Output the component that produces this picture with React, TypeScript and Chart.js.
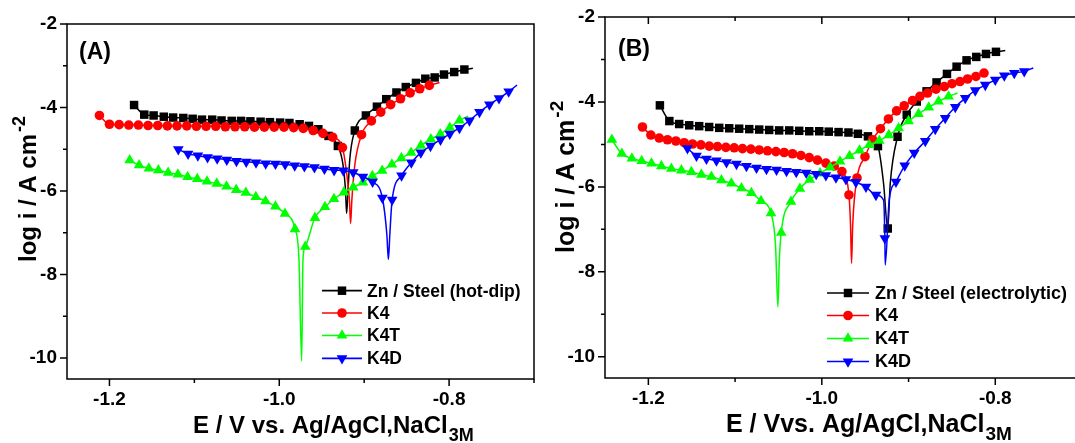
import React, { useEffect, useRef } from 'react';
import { Chart, registerables } from 'chart.js';

Chart.register(...registerables);

const FONT = "'Liberation Sans', Arial, Helvetica, sans-serif";

// ---------- axis ticks (both panels) ----------
const xMajorTicks = [-1.2, -1.0, -0.8];
const xMajorLabels = ['-1.2', '-1.0', '-0.8'];
const xMinorTicks = [-1.1, -0.9, -0.7];
const yMajorTicks = [-10, -8, -6, -4, -2];
const yMajorLabels = ['-10', '-8', '-6', '-4', '-2'];
const yMinorTicks = [-9, -7, -5, -3];
const xRange = [-1.25, -0.7];
const yRange = [-10.5, -2];

const seriesLabelsA = ['Zn / Steel (hot-dip)', 'K4', 'K4T', 'K4D'];
const seriesLabelsB = ['Zn / Steel (electrolytic)', 'K4', 'K4T', 'K4D'];

// ---------- Panel A : hot-dip ----------
// marker points (E / V, log i)
const aZnE = [-1.171, -1.159, -1.148, -1.136, -1.125, -1.113, -1.102, -1.091, -1.079, -1.068, -1.056, -1.045, -1.034, -1.022, -1.011, -0.999, -0.988, -0.976, -0.965, -0.954, -0.942, -0.931, -0.911, -0.898, -0.885, -0.874, -0.862, -0.851, -0.839, -0.828, -0.817, -0.806, -0.794, -0.782];
const aZnI = [-3.94, -4.17, -4.19, -4.22, -4.24, -4.25, -4.27, -4.29, -4.29, -4.31, -4.32, -4.32, -4.33, -4.34, -4.35, -4.36, -4.37, -4.40, -4.44, -4.52, -4.68, -4.92, -4.55, -4.19, -3.98, -3.80, -3.64, -3.51, -3.41, -3.31, -3.28, -3.21, -3.15, -3.09];
// curve points without a marker (around Ecorr and at the end)
const aZnTraceE = [-0.925, -0.922, -0.9207, -0.919, -0.917, -0.772];
const aZnTraceI = [-5.36, -5.97, -6.54, -5.97, -5.25, -3.06];

const aK4E = [-1.2118, -1.2, -1.1886, -1.1772, -1.1659, -1.1545, -1.1431, -1.1318, -1.1204, -1.1089, -1.0976, -1.0862, -1.0748, -1.0635, -1.0521, -1.0407, -1.0292, -1.0176, -1.006, -0.9945, -0.9831, -0.9718, -0.9601, -0.9486, -0.9371, -0.9256, -0.9031, -0.8915, -0.8804, -0.8688, -0.8572, -0.8459, -0.8345, -0.8233];
const aK4I = [-4.19, -4.40, -4.41, -4.42, -4.42, -4.43, -4.43, -4.44, -4.44, -4.44, -4.45, -4.45, -4.45, -4.46, -4.46, -4.46, -4.47, -4.47, -4.47, -4.47, -4.48, -4.50, -4.55, -4.62, -4.71, -4.96, -4.65, -4.32, -4.11, -3.93, -3.79, -3.65, -3.55, -3.47];
const aK4TraceE = [-0.9204, -0.9174, -0.916, -0.9145, -0.911, -0.8113];
const aK4TraceI = [-5.61, -6.21, -6.78, -6.21, -5.37, -3.40];

const aK4TE = [-1.1762, -1.1651, -1.1536, -1.1424, -1.1309, -1.1194, -1.108, -1.0966, -1.0851, -1.0736, -1.0621, -1.0507, -1.0394, -1.0276, -1.0162, -1.0045, -0.9933, -0.9815, -0.9694, -0.958, -0.9462, -0.9356, -0.9239, -0.9129, -0.9015, -0.8904, -0.8789, -0.8674, -0.8562, -0.8448, -0.8333, -0.8215, -0.8104, -0.7992, -0.7878];
const aK4TI = [-5.26, -5.38, -5.46, -5.50, -5.56, -5.60, -5.66, -5.71, -5.77, -5.82, -5.89, -5.97, -6.04, -6.14, -6.24, -6.37, -6.54, -6.91, -7.33, -6.64, -6.38, -6.19, -6.03, -5.91, -5.79, -5.64, -5.51, -5.36, -5.21, -5.08, -4.91, -4.76, -4.64, -4.48, -4.31];
const aK4TTraceE = [-0.9768, -0.9736, -0.9721, -0.7776];
const aK4TTraceI = [-7.64, -10.07, -7.64, -4.21];

const aK4DE = [-1.1189, -1.1074, -1.0959, -1.0845, -1.0731, -1.0618, -1.0504, -1.0389, -1.0274, -1.016, -1.0045, -0.9931, -0.9818, -0.9704, -0.9586, -0.9468, -0.9354, -0.9245, -0.9129, -0.9015, -0.8901, -0.8786, -0.8671, -0.856, -0.8445, -0.8333, -0.8219, -0.8101, -0.7992, -0.7878, -0.776, -0.7642, -0.7525, -0.7412, -0.7298];
const aK4DI = [-5.00, -5.11, -5.15, -5.19, -5.22, -5.25, -5.28, -5.30, -5.32, -5.34, -5.35, -5.36, -5.39, -5.41, -5.43, -5.47, -5.50, -5.51, -5.55, -5.66, -5.78, -6.16, -6.21, -5.63, -5.32, -5.08, -4.92, -4.77, -4.63, -4.49, -4.31, -4.11, -3.93, -3.78, -3.62];
const aK4DTraceE = [-0.8733, -0.8715, -0.8698, -0.72];
const aK4DTraceI = [-7.04, -7.64, -7.04, -3.46];

// ---------- Panel B : electrolytic ----------
const bZnE = [-1.1867, -1.1758, -1.1645, -1.1529, -1.1414, -1.1299, -1.1183, -1.1068, -1.0953, -1.0837, -1.0722, -1.0607, -1.0492, -1.0376, -1.0261, -1.0145, -1.003, -0.992, -0.9807, -0.9693, -0.9584, -0.9468, -0.9353, -0.924, -0.9127, -0.9021, -0.8905, -0.8792, -0.8677, -0.8557, -0.8446, -0.8331, -0.8219, -0.8107, -0.7992];
const bZnI = [-4.08, -4.45, -4.52, -4.55, -4.57, -4.59, -4.61, -4.62, -4.63, -4.64, -4.65, -4.66, -4.67, -4.67, -4.68, -4.69, -4.69, -4.70, -4.71, -4.72, -4.75, -4.81, -5.04, -6.98, -4.82, -4.30, -3.99, -3.75, -3.54, -3.34, -3.17, -3.02, -2.94, -2.87, -2.82];
const bZnTraceE = [-0.9288, -0.9211, -0.7885];
const bZnTraceI = [-5.92, -5.92, -2.79];

const bK4E = [-1.2068, -1.1971, -1.1875, -1.178, -1.1683, -1.1587, -1.1491, -1.1394, -1.1298, -1.1203, -1.1106, -1.101, -1.0915, -1.0818, -1.0722, -1.0626, -1.0529, -1.0434, -1.0338, -1.0241, -1.0145, -1.005, -0.9953, -0.9857, -0.9768, -0.9687, -0.9594, -0.9502, -0.9415, -0.9324, -0.9232, -0.9138, -0.905, -0.8954, -0.8869, -0.8781, -0.8684, -0.8588, -0.8499, -0.8407, -0.8319, -0.8223, -0.813];
const bK4I = [-4.59, -4.78, -4.85, -4.89, -4.92, -4.96, -4.99, -5.01, -5.04, -5.05, -5.07, -5.08, -5.10, -5.11, -5.13, -5.15, -5.17, -5.19, -5.22, -5.26, -5.31, -5.37, -5.44, -5.51, -5.64, -6.19, -5.79, -5.29, -4.89, -4.63, -4.40, -4.21, -4.09, -3.97, -3.87, -3.79, -3.70, -3.64, -3.57, -3.52, -3.46, -3.40, -3.32];
const bK4TraceE = [-0.9669, -0.9657, -0.9644];
const bK4TraceI = [-6.90, -7.80, -6.90];

const bK4TE = [-1.2421, -1.2306, -1.219, -1.2077, -1.1964, -1.185, -1.1735, -1.1619, -1.1504, -1.1389, -1.1273, -1.1158, -1.1043, -1.0927, -1.0812, -1.0701, -1.0586, -1.0468, -1.0356, -1.0253, -1.014, -1.0021, -0.9905, -0.979, -0.968, -0.9565, -0.9453, -0.9338, -0.9228, -0.9115, -0.9, -0.8885, -0.8767, -0.8654, -0.8539];
const bK4TI = [-4.89, -5.22, -5.33, -5.39, -5.45, -5.51, -5.57, -5.61, -5.65, -5.71, -5.76, -5.84, -5.92, -6.03, -6.14, -6.33, -6.62, -7.08, -6.35, -6.04, -5.83, -5.68, -5.54, -5.40, -5.27, -5.14, -5.01, -4.91, -4.78, -4.62, -4.45, -4.28, -4.13, -3.99, -3.87];
const bK4TTraceE = [-1.0534, -1.0506, -1.0491, -0.8435];
const bK4TTraceI = [-7.37, -8.83, -7.77, -3.79];

const bK4DE = [-1.1549, -1.1445, -1.133, -1.1215, -1.1099, -1.0984, -1.0869, -1.0753, -1.0638, -1.0522, -1.0407, -1.0295, -1.018, -1.0065, -0.9953, -0.9837, -0.9722, -0.9607, -0.9491, -0.9376, -0.9273, -0.9145, -0.9044, -0.8934, -0.8807, -0.8692, -0.8577, -0.8461, -0.8346, -0.8231, -0.8115, -0.8, -0.7896, -0.7781, -0.7666];
const bK4DI = [-5.09, -5.27, -5.34, -5.38, -5.42, -5.46, -5.51, -5.55, -5.58, -5.60, -5.63, -5.65, -5.67, -5.70, -5.73, -5.78, -5.82, -5.89, -6.00, -6.19, -7.21, -5.88, -5.50, -5.20, -4.92, -4.64, -4.38, -4.12, -3.91, -3.73, -3.60, -3.48, -3.38, -3.32, -3.28];
const bK4DTraceE = [-0.9288, -0.9269, -0.9223, -0.7562];
const bK4DTraceI = [-6.31, -7.84, -6.31, -3.20];

// ---------- styling ----------
const COLORS = ['#000000', '#ff0000', '#00ff00', '#0000ff'];
const MARKERS = [
  { style: 'rect', rot: 0, r: 6 },
  { style: 'circle', rot: 0, r: 4.8 },
  { style: 'triangle', rot: 0, r: 6.2 },
  { style: 'triangle', rot: 180, r: 6.2 },
];

type Pt = { x: number; y: number; m: boolean };

function buildSeries(mE: number[], mI: number[], tE: number[], tI: number[]): Pt[] {
  const pts: Pt[] = mE.map((x, i) => ({ x, y: mI[i], m: true }));
  tE.forEach((x, i) => pts.push({ x, y: tI[i], m: false }));
  pts.sort((a, b) => a.x - b.x);
  return pts;
}

function drawMarker(ctx: CanvasRenderingContext2D, idx: number, x: number, y: number) {
  const mk = MARKERS[idx];
  ctx.fillStyle = COLORS[idx];
  ctx.beginPath();
  if (mk.style === 'rect') {
    const s = mk.r * Math.SQRT1_2;
    ctx.rect(x - s, y - s, 2 * s, 2 * s);
  } else if (mk.style === 'circle') {
    ctx.arc(x, y, mk.r, 0, Math.PI * 2);
  } else {
    let a = (mk.rot * Math.PI) / 180;
    ctx.moveTo(x + Math.sin(a) * mk.r, y - Math.cos(a) * mk.r);
    a += (2 * Math.PI) / 3;
    ctx.lineTo(x + Math.sin(a) * mk.r, y - Math.cos(a) * mk.r);
    a += (2 * Math.PI) / 3;
    ctx.lineTo(x + Math.sin(a) * mk.r, y - Math.cos(a) * mk.r);
  }
  ctx.closePath();
  ctx.fill();
}

type PanelProps = {
  canvasLeft: number;
  canvasWidth: number;
  area: { left: number; right: number; top: number; bottom: number };
  series: Pt[][];
  labels: string[];
  panelLabel: string;
  panelLabelPos: [number, number];
  xTitle: string;
  xTitlePos: [number, number];
  xTitleSize: number;
  yTitlePos: [number, number];
  yTitleSize: number;
  legend: { x1: number; x2: number; tx: number; rows: number[]; size: number };
  topTicks: boolean;
};

const H = 443;

function TafelPanel(p: PanelProps) {
  const ref = useRef<HTMLCanvasElement | null>(null);
  useEffect(() => {
    if (!ref.current) return;
    const a = p.area;
    const decor = {
      id: 'decor',
      afterDraw(chart: any) {
        const ctx: CanvasRenderingContext2D = chart.ctx;
        const ca = chart.chartArea;
        const xs = chart.scales.x;
        const ys = chart.scales.y;
        ctx.save();
        ctx.strokeStyle = '#000';
        ctx.lineWidth = 1.5;
        ctx.strokeRect(ca.left, ca.top, ca.right - ca.left, ca.bottom - ca.top);
        ctx.beginPath();
        const xt = (v: number, len: number) => {
          const px = xs.getPixelForValue(v);
          ctx.moveTo(px, ca.bottom);
          ctx.lineTo(px, ca.bottom + len);
          if (p.topTicks) {
            ctx.moveTo(px, ca.top);
            ctx.lineTo(px, ca.top + len);
          }
        };
        const yt = (v: number, len: number) => {
          const py = ys.getPixelForValue(v);
          ctx.moveTo(ca.left, py);
          ctx.lineTo(ca.left - len, py);
        };
        xMajorTicks.forEach((v) => xt(v, 7));
        xMinorTicks.forEach((v) => xt(v, 4));
        yMajorTicks.forEach((v) => yt(v, 7));
        yMinorTicks.forEach((v) => yt(v, 4));
        ctx.stroke();

        // legend
        const lg = p.legend;
        p.labels.forEach((lab, i) => {
          const ry = lg.rows[i];
          ctx.strokeStyle = COLORS[i];
          ctx.lineWidth = 1.7;
          ctx.beginPath();
          ctx.moveTo(lg.x1, ry);
          ctx.lineTo(lg.x2, ry);
          ctx.stroke();
          drawMarker(ctx, i, (lg.x1 + lg.x2) / 2, ry);
          ctx.fillStyle = '#000';
          ctx.font = `bold ${lg.size}px ${FONT}`;
          ctx.textAlign = 'left';
          ctx.textBaseline = 'middle';
          ctx.fillText(lab, lg.tx, ry + 1);
        });

        // panel label
        ctx.fillStyle = '#000';
        ctx.textBaseline = 'alphabetic';
        ctx.textAlign = 'left';
        ctx.font = `bold 23px ${FONT}`;
        ctx.fillText(p.panelLabel, p.panelLabelPos[0], p.panelLabelPos[1]);

        // x title with subscript
        const xs0 = p.xTitleSize;
        ctx.font = `bold ${xs0}px ${FONT}`;
        ctx.fillText(p.xTitle, p.xTitlePos[0], p.xTitlePos[1]);
        const w = ctx.measureText(p.xTitle).width;
        ctx.font = `bold ${Math.round(xs0 * 0.74)}px ${FONT}`;
        ctx.fillText('3M', p.xTitlePos[0] + w + 1, p.xTitlePos[1] + 8);

        // y title with superscript
        const ysz = p.yTitleSize;
        ctx.save();
        ctx.translate(p.yTitlePos[0], p.yTitlePos[1]);
        ctx.rotate(-Math.PI / 2);
        ctx.font = `bold ${ysz}px ${FONT}`;
        ctx.fillText('log i / A cm', 0, 0);
        const w2 = ctx.measureText('log i / A cm').width;
        ctx.font = `bold ${Math.round(ysz * 0.74)}px ${FONT}`;
        ctx.fillText('-2', w2 + 2, -ysz * 0.45);
        ctx.restore();

        ctx.restore();
      },
    };

    const datasets = p.series.map((pts, i) => ({
      label: p.labels[i],
      data: pts,
      borderColor: COLORS[i],
      backgroundColor: COLORS[i],
      borderWidth: 1.5,
      pointStyle: MARKERS[i].style,
      pointRotation: MARKERS[i].rot,
      pointRadius: (c: any) => (c.raw && c.raw.m ? MARKERS[i].r : 0),
      pointHoverRadius: 0,
      pointBackgroundColor: COLORS[i],
      pointBorderColor: COLORS[i],
      pointBorderWidth: 0,
      cubicInterpolationMode: 'monotone',
      order: 3 - i,
    }));

    const tickFont = { family: FONT, size: 19, weight: 'bold' };
    const chart = new Chart(ref.current, {
      type: 'line',
      data: { datasets } as any,
      plugins: [decor],
      options: {
        responsive: false,
        animation: false,
        devicePixelRatio: 1,
        events: [],
        layout: {
          autoPadding: false,
          padding: { left: 0, top: a.top, right: p.canvasWidth - a.right, bottom: 0 },
        },
        plugins: { legend: { display: false }, tooltip: { enabled: false } },
        scales: {
          x: {
            type: 'linear',
            min: xRange[0],
            max: xRange[1],
            grid: { display: false, drawTicks: false },
            border: { display: false },
            afterBuildTicks: (s: any) => {
              s.ticks = xMajorTicks.map((v) => ({ value: v }));
            },
            afterFit: (s: any) => {
              s.height = H - a.bottom;
              s.paddingLeft = 0;
              s.paddingRight = 0;
              s.paddingTop = 0;
              s.paddingBottom = 0;
            },
            ticks: {
              autoSkip: false,
              maxRotation: 0,
              padding: 9,
              color: '#000',
              font: tickFont,
              callback: (v: any) => {
                const k = xMajorTicks.findIndex((t) => Math.abs(t - v) < 1e-6);
                return k >= 0 ? xMajorLabels[k] : '';
              },
            },
          },
          y: {
            type: 'linear',
            min: yRange[0],
            max: yRange[1],
            grid: { display: false, drawTicks: false },
            border: { display: false },
            afterBuildTicks: (s: any) => {
              s.ticks = yMajorTicks.map((v) => ({ value: v }));
            },
            afterFit: (s: any) => {
              s.width = a.left;
              s.paddingLeft = 0;
              s.paddingRight = 0;
              s.paddingTop = 0;
              s.paddingBottom = 0;
            },
            ticks: {
              autoSkip: false,
              padding: 10,
              color: '#000',
              font: tickFont,
              callback: (v: any) => {
                const k = yMajorTicks.findIndex((t) => Math.abs(t - v) < 1e-6);
                return k >= 0 ? yMajorLabels[k] : '';
              },
            },
          },
        },
      } as any,
    });
    return () => chart.destroy();
  }, []);

  return (
    <canvas
      ref={ref}
      width={p.canvasWidth}
      height={H}
      style={{ position: 'absolute', left: p.canvasLeft, top: 0, width: p.canvasWidth, height: H }}
    />
  );
}

export default function App() {
  const seriesA = [
    buildSeries(aZnE, aZnI, aZnTraceE, aZnTraceI),
    buildSeries(aK4E, aK4I, aK4TraceE, aK4TraceI),
    buildSeries(aK4TE, aK4TI, aK4TTraceE, aK4TTraceI),
    buildSeries(aK4DE, aK4DI, aK4DTraceE, aK4DTraceI),
  ];
  const seriesB = [
    buildSeries(bZnE, bZnI, bZnTraceE, bZnTraceI),
    buildSeries(bK4E, bK4I, bK4TraceE, bK4TraceI),
    buildSeries(bK4TE, bK4TI, bK4TTraceE, bK4TTraceI),
    buildSeries(bK4DE, bK4DI, bK4DTraceE, bK4DTraceI),
  ];
  return (
    <div
      style={{
        position: 'fixed',
        left: 0,
        top: 0,
        width: 1075,
        height: H,
        overflow: 'hidden',
        background: '#fff',
      }}
    >
      <TafelPanel
        canvasLeft={0}
        canvasWidth={540}
        area={{ left: 67, right: 534, top: 24, bottom: 379 }}
        series={seriesA}
        labels={seriesLabelsA}
        panelLabel="(A)"
        panelLabelPos={[79, 59]}
        xTitle="E / V vs. Ag/AgCl,NaCl"
        xTitlePos={[193, 433]}
        xTitleSize={24}
        yTitlePos={[36, 262]}
        yTitleSize={24}
        legend={{ x1: 322, x2: 362, tx: 367, rows: [290.7, 313, 335.5, 358.3], size: 17.5 }}
        topTicks={false}
      />
      <TafelPanel
        canvasLeft={540}
        canvasWidth={560}
        area={{ left: 65, right: 542, top: 17, bottom: 378 }}
        series={seriesB}
        labels={seriesLabelsB}
        panelLabel="(B)"
        panelLabelPos={[78, 56]}
        xTitle="E / Vvs. Ag/AgCl,NaCl"
        xTitlePos={[186, 432]}
        xTitleSize={25}
        yTitlePos={[34, 253]}
        yTitleSize={25}
        legend={{ x1: 287, x2: 329, tx: 335, rows: [293, 315.5, 338.5, 361.5], size: 18 }}
        topTicks={true}
      />
    </div>
  );
}
